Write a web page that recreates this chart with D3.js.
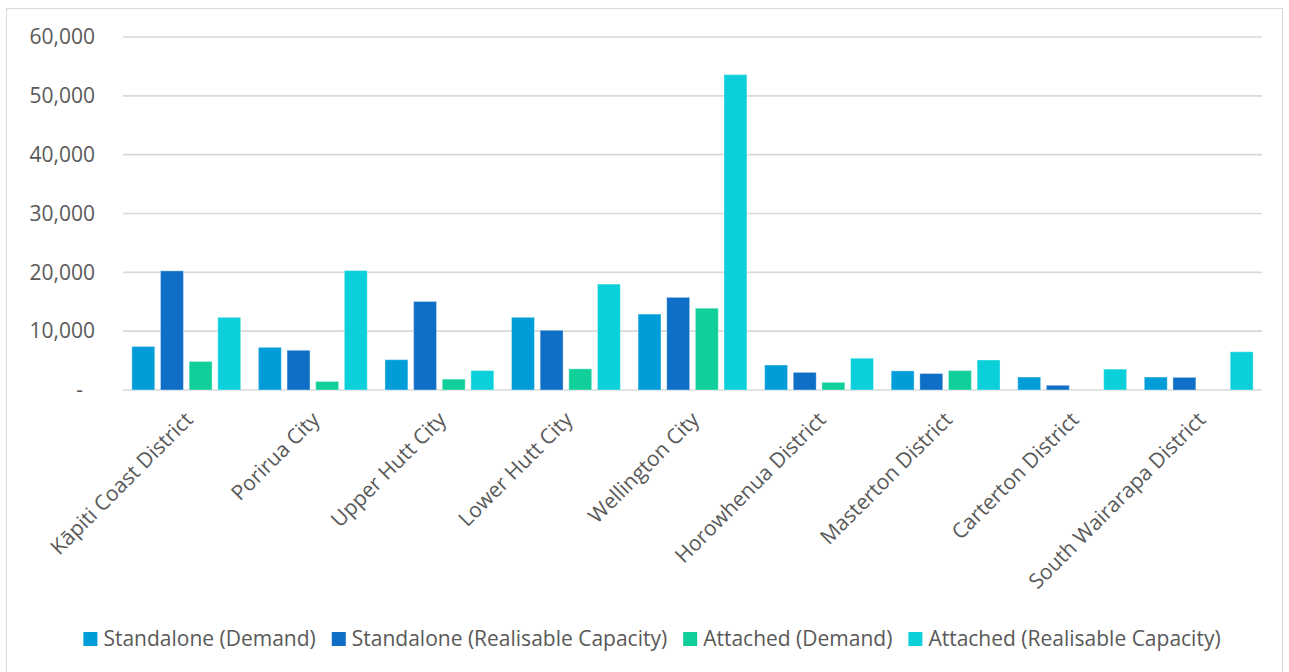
<!DOCTYPE html>
<html>
<head>
<meta charset="utf-8">
<script src="https://cdn.jsdelivr.net/npm/d3@7"></script>
<style>
  body { margin: 0; background: #fff; }
  text { font-family: "Open Sans", sans-serif; fill: #595959; }
</style>
</head>
<body>
<svg id="chart" width="1289" height="672"></svg>
<script>
// district names along the x axis
var districts = ["Kāpiti Coast District", "Porirua City", "Upper Hutt City", "Lower Hutt City",
    "Wellington City", "Horowhenua District", "Masterton District", "Carterton District",
    "South Wairarapa District"];

// series names, same order as the legend
var seriesNames = ["Standalone (Demand)", "Standalone (Realisable Capacity)",
    "Attached (Demand)", "Attached (Realisable Capacity)"];

// values per series, one per district
var standaloneDemand   = [7400, 7250, 5150, 12350, 12900, 4250, 3250, 2200, 2200];
var standaloneCapacity = [20250, 6750, 15050, 10150, 15750, 3000, 2800, 800, 2150];
var attachedDemand     = [4850, 1450, 1850, 3600, 13900, 1300, 3300, 0, 0];
var attachedCapacity   = [12350, 20300, 3300, 18000, 53600, 5400, 5100, 3550, 6500];

var yTicks = [0, 10000, 20000, 30000, 40000, 50000, 60000];

var colours = ["#009DD9", "#0F6FC6", "#10CF9B", "#0BD0D9"];

var svg = d3.select("#chart");

// light frame round the chart area (bottom edge runs off the page)
svg.append("rect")
    .attr("x", 6.5).attr("y", 8.5)
    .attr("width", 1276).attr("height", 672)
    .style("fill", "none").style("stroke", "#D9D9D9").style("stroke-width", 1);

// scales
var x0 = d3.scaleBand().domain(districts).range([123, 1262])
    .paddingInner(0.14).paddingOuter(0.07);
var x1 = d3.scaleBand().domain(seriesNames).range([0, x0.bandwidth()]).paddingInner(0.2);
var y = d3.scaleLinear().domain([0, 60000]).range([390, 37]);
var colour = d3.scaleOrdinal().domain(seriesNames).range(colours);

// gridlines
svg.append("g").selectAll("line").data(yTicks).enter().append("line")
    .attr("x1", 123).attr("x2", 1262)
    .attr("y1", function(d){ return y(d); })
    .attr("y2", function(d){ return y(d); })
    .style("stroke", "#D9D9D9").style("stroke-width", 1.7);

// y axis labels, zero shown as a dash like the accounting format
var yAxis = d3.axisLeft(y).tickValues(yTicks).tickSize(0).tickPadding(0)
    .tickFormat(function(d){ return d === 0 ? "-\u2007" : d3.format(",")(d); });
var yG = svg.append("g").attr("transform", "translate(95,0)").call(yAxis);
yG.select(".domain").remove();
yG.selectAll("text").style("font-size", "21px").style("fill", "#595959")
    .style("font-family", "'Open Sans', sans-serif");

// table of values: rows are districts, one column per series
var seriesValues = [standaloneDemand, standaloneCapacity, attachedDemand, attachedCapacity];
var rows = districts.map(function(name, i){
    return seriesNames.map(function(s, j){ return {series: s, value: seriesValues[j][i]}; });
});

// bars
var groups = svg.append("g").selectAll("g").data(rows).enter().append("g")
    .attr("transform", function(d, i){ return "translate(" + x0(districts[i]) + ",0)"; });
groups.selectAll("rect").data(function(d){ return d; }).enter().append("rect")
    .attr("x", function(d){ return x1(d.series); })
    .attr("y", function(d){ return y(d.value); })
    .attr("width", x1.bandwidth())
    .attr("height", function(d){ return y(0) - y(d.value); })
    .style("fill", function(d){ return colour(d.series); })
    .style("stroke", "#ffffff").style("stroke-opacity", 0.35).style("stroke-width", 1);

// x axis labels, rotated 45 degrees
var xAxis = d3.axisBottom(x0).tickSize(0).tickPadding(0);
var xG = svg.append("g").attr("transform", "translate(0,390)").call(xAxis);
xG.select(".domain").remove();
xG.selectAll("text")
    .style("font-size", "21px").style("fill", "#595959")
    .style("font-family", "'Open Sans', sans-serif")
    .attr("text-anchor", "end")
    .attr("y", 0).attr("dy", 0)
    .attr("transform", "translate(8,31) rotate(-45)");

// legend, laid out from measured text widths and centred
var legend = svg.append("g");
var items = legend.selectAll("g").data(seriesNames).enter().append("g");
items.append("rect").attr("width", 14).attr("height", 14).attr("y", 632)
    .style("fill", function(d){ return colour(d); });
items.append("text").attr("x", 20).attr("y", 646)
    .style("font-size", "21px")
    .text(function(d){ return d; });
var offsets = [], pos = 0;
items.each(function(){
    offsets.push(pos);
    pos += 20 + this.querySelector("text").getComputedTextLength() + 16;
});
var legendWidth = pos - 16;
var legendStart = 652 - legendWidth / 2;
items.attr("transform", function(d, i){ return "translate(" + (legendStart + offsets[i]) + ",0)"; });
</script>
</body>
</html>
